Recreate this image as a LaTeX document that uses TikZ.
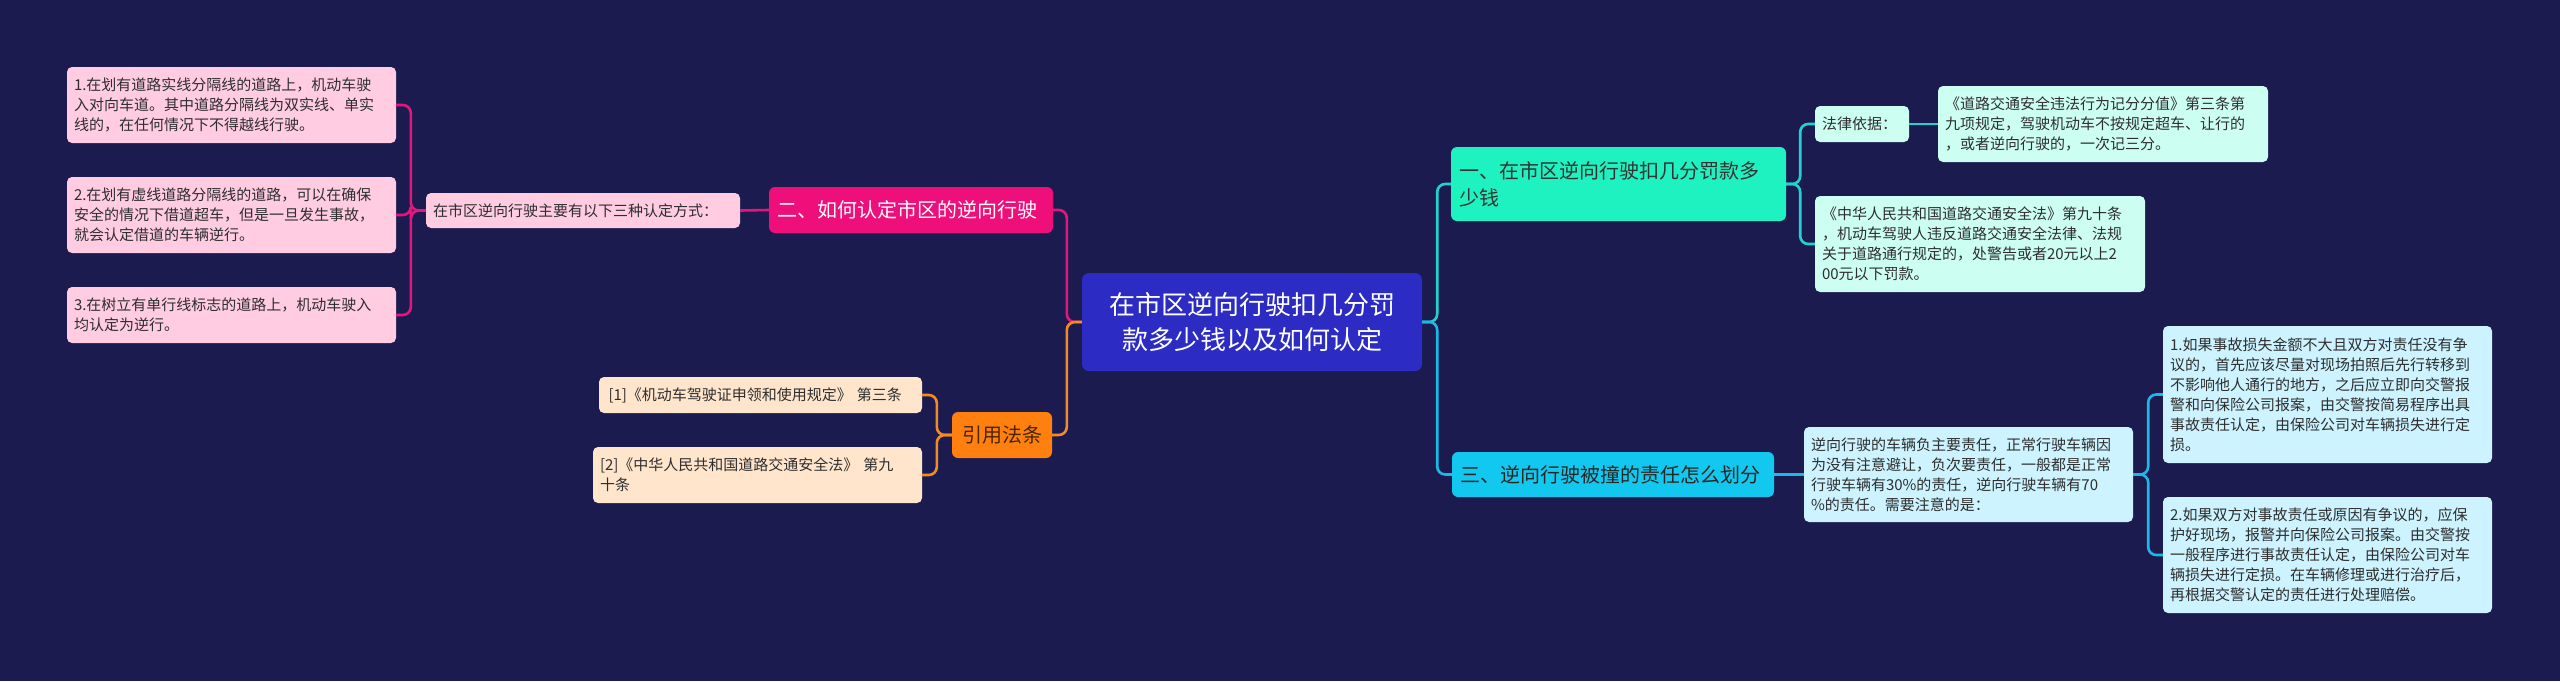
\documentclass[tikz,border=0pt]{standalone}
\usepackage{fontspec}
\setmainfont{Noto Sans CJK SC}
\definecolor{bg}{HTML}{1B1B50}
\definecolor{rootc}{HTML}{2C2CC4}
\definecolor{pinkc}{HTML}{EE0F7A}
\definecolor{pinkl}{HTML}{FFCCE2}
\definecolor{pinkline}{HTML}{E5157C}
\definecolor{orc}{HTML}{FF7F0F}
\definecolor{orl}{HTML}{FFE5CC}
\definecolor{orline}{HTML}{F28A25}
\definecolor{ortext}{HTML}{4A2500}
\definecolor{mintc}{HTML}{1DF2C0}
\definecolor{mintl}{HTML}{CCFFF1}
\definecolor{mintline}{HTML}{22D2D0}
\definecolor{cyanc}{HTML}{12C8EE}
\definecolor{cyanl}{HTML}{CCF3FF}
\definecolor{cyanline}{HTML}{1CB8E6}
\definecolor{darktext}{HTML}{2E2E2E}
\tikzset{
  box/.style={rounded corners=5pt, inner xsep=7pt, inner ysep=2pt, align=left,
    text=darktext, font=\fontsize{15}{20}\selectfont},
  mainbox/.style={rounded corners=6pt, inner xsep=8pt, inner ysep=2pt, align=left,
    font=\fontsize{20}{27}\selectfont},
  conn/.style={line width=2.6pt, rounded corners=8pt},
}
\begin{document}
\begin{tikzpicture}[x=1pt,y=-1pt]
\fill[bg] (0,0) rectangle (2560,681);
\useasboundingbox (0,0) rectangle (2560,681);

% root
\node[rounded corners=7pt, fill=rootc, text=white, align=center, text width=340pt,
  minimum height=98pt, inner sep=0pt, font=\fontsize{26}{35}\selectfont]
  (root) at (1252,322) {在市区逆向行驶扣几分罚\\款多少钱以及如何认定};

% left branch: pink
\node[mainbox, fill=pinkc, text=white, text width=268pt, minimum height=46pt]
  (pm) at (911,210) {二、如何认定市区的逆向行驶};
\node[box, fill=pinkl, text width=300pt, minimum height=35pt]
  (pi) at (583,210.5) {在市区逆向行驶主要有以下三种认定方式：};
\node[box, fill=pinkl, text width=315pt, minimum height=76pt]
  (pc1) at (231.5,105) {1.在划有道路实线分隔线的道路上，机动车驶\\入对向车道。其中道路分隔线为双实线、单实\\线的，在任何情况下不得越线行驶。};
\node[box, fill=pinkl, text width=315pt, minimum height=76pt]
  (pc2) at (231.5,215) {2.在划有虚线道路分隔线的道路，可以在确保\\安全的情况下借道超车，但是一旦发生事故，\\就会认定借道的车辆逆行。};
\node[box, fill=pinkl, text width=315pt, minimum height=56pt]
  (pc3) at (231.5,315) {3.在树立有单行线标志的道路上，机动车驶入\\均认定为逆行。};

% left branch: orange
\node[mainbox, fill=orc, text=ortext, align=center, text width=84pt, minimum height=46pt]
  (om) at (1002,435) {引用法条};
\node[box, fill=orl, text width=309pt, minimum height=36pt]
  (o1) at (760.5,395) {\,[1]《机动车驾驶证申领和使用规定》 第三条};
\node[box, fill=orl, text width=315pt, minimum height=56pt]
  (o2) at (757.5,475) {[2]《中华人民共和国道路交通安全法》 第九\\十条};

% right branch: mint
\node[mainbox, fill=mintc, text=black!80, text width=319pt, minimum height=74pt]
  (n1) at (1618.5,184) {一、在市区逆向行驶扣几分罚款多\\少钱};
\node[box, fill=mintl, text width=80pt, minimum height=36pt]
  (fy) at (1862,124) {法律依据：};
\node[box, fill=mintl, text width=316pt, minimum height=76pt]
  (law1) at (2103,124) {《道路交通安全违法行为记分分值》第三条第\\九项规定，驾驶机动车不按规定超车、让行的\\，或者逆向行驶的，一次记三分。};
\node[box, fill=mintl, text width=316pt, minimum height=96pt]
  (law2) at (1980,244) {《中华人民共和国道路交通安全法》第九十条\\，机动车驾驶人违反道路交通安全法律、法规\\关于道路通行规定的，处警告或者20元以上2\\00元以下罚款。};

% right branch: cyan
\node[mainbox, fill=cyanc, text=black!85, text width=306pt, minimum height=45pt]
  (n3) at (1613,474.5) {三、逆向行驶被撞的责任怎么划分};
\node[box, fill=cyanl, text width=315pt, minimum height=95pt]
  (mid) at (1968.5,474.5) {逆向行驶的车辆负主要责任，正常行驶车辆因\\为没有注意避让，负次要责任，一般都是正常\\行驶车辆有30\%的责任，逆向行驶车辆有70\\\%的责任。需要注意的是：};
\node[box, fill=cyanl, text width=315pt, minimum height=137pt]
  (c1) at (2327.5,394.5) {1.如果事故损失金额不大且双方对责任没有争\\议的，首先应该尽量对现场拍照后先行转移到\\不影响他人通行的地方，之后应立即向交警报\\警和向保险公司报案，由交警按简易程序出具\\事故责任认定，由保险公司对车辆损失进行定\\损。};
\node[box, fill=cyanl, text width=315pt, minimum height=116pt]
  (c2) at (2327.5,555) {2.如果双方对事故责任或原因有争议的，应保\\护好现场，报警并向保险公司报案。由交警按\\一般程序进行事故责任认定，由保险公司对车\\辆损失进行定损。在车辆修理或进行治疗后，\\再根据交警认定的责任进行处理赔偿。};

% connectors
\draw[conn, pinkline] (root.west) -- ++(-15,0) |- (pm.east);
\draw[conn, orline] (root.west) -- ++(-15,0) |- (om.east);
\draw[conn, pinkline] (pm.west) -- (pi.east);
\draw[conn, pinkline] (pi.west) -- ++(-15,0) |- (pc1.east);
\draw[conn, pinkline] (pi.west) -- ++(-15,0) |- (pc2.east);
\draw[conn, pinkline] (pi.west) -- ++(-15,0) |- (pc3.east);
\draw[conn, orline] (om.west) -- ++(-15,0) |- (o1.east);
\draw[conn, orline] (om.west) -- ++(-15,0) |- (o2.east);
\draw[conn, mintline] (root.east) -- ++(15,0) |- (n1.west);
\draw[conn, cyanline] (root.east) -- ++(15,0) |- (n3.west);
\draw[conn, mintline] (n1.east) -- ++(14,0) |- (fy.west);
\draw[conn, mintline] (n1.east) -- ++(14,0) |- (law2.west);
\draw[conn, mintline] (fy.east) -- (law1.west);
\draw[conn, cyanline] (n3.east) -- (mid.west);
\draw[conn, cyanline] (mid.east) -- ++(15,0) |- (c1.west);
\draw[conn, cyanline] (mid.east) -- ++(15,0) |- (c2.west);
\end{tikzpicture}
\end{document}
